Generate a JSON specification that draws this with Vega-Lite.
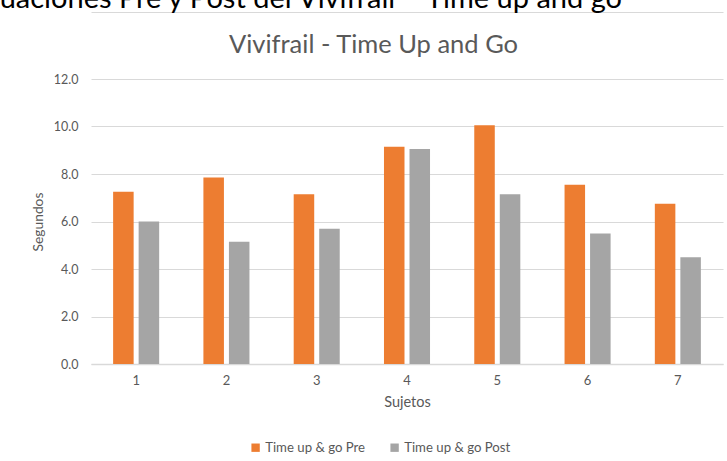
{
  "$schema": "https://vega.github.io/schema/vega-lite/v6.json",
  "width": 632,
  "height": 285,
  "autosize": {"type": "none"},
  "padding": {"left": 91, "top": 79, "right": 4, "bottom": 97},
  "background": "white",
  "title": {
    "text": "uaciones Pre y Post del Vivifrail – Time up and go",
    "orient": "top",
    "anchor": "end",
    "frame": "bounds",
    "dx": -101,
    "dy": 84,
    "offset": 2,
    "font": "Lato",
    "fontSize": 29,
    "fontWeight": "normal",
    "color": "#000000"
  },
  "config": {
    "font": "Lato",
    "view": {"stroke": null},
    "axis": {"labelColor": "#595959", "titleColor": "#595959", "titleFontWeight": "normal"}
  },
  "data": {
    "values": [
      {"sujeto": "1", "serie": "Time up & go Pre", "segundos": 7.25},
      {"sujeto": "1", "serie": "Time up & go Post", "segundos": 6.0},
      {"sujeto": "2", "serie": "Time up & go Pre", "segundos": 7.85},
      {"sujeto": "2", "serie": "Time up & go Post", "segundos": 5.15},
      {"sujeto": "3", "serie": "Time up & go Pre", "segundos": 7.15},
      {"sujeto": "3", "serie": "Time up & go Post", "segundos": 5.7},
      {"sujeto": "4", "serie": "Time up & go Pre", "segundos": 9.15},
      {"sujeto": "4", "serie": "Time up & go Post", "segundos": 9.05},
      {"sujeto": "5", "serie": "Time up & go Pre", "segundos": 10.05},
      {"sujeto": "5", "serie": "Time up & go Post", "segundos": 7.15},
      {"sujeto": "6", "serie": "Time up & go Pre", "segundos": 7.55},
      {"sujeto": "6", "serie": "Time up & go Post", "segundos": 5.5},
      {"sujeto": "7", "serie": "Time up & go Pre", "segundos": 6.75},
      {"sujeto": "7", "serie": "Time up & go Post", "segundos": 4.5}
    ]
  },
  "layer": [
    {
      "mark": {"type": "bar"},
      "encoding": {
        "x": {
          "field": "sujeto",
          "type": "nominal",
          "scale": {"paddingInner": 0.49, "paddingOuter": 0.245},
          "axis": {
            "orient": "bottom",
            "title": "Sujetos",
            "labelAngle": 0,
            "labelFontSize": 13,
            "labelPadding": 10,
            "ticks": false,
            "domainColor": "#d9d9d9",
            "domainWidth": 1.5,
            "titleFontSize": 14.5,
            "titlePadding": 8
          }
        },
        "xOffset": {
          "field": "serie",
          "type": "nominal",
          "sort": ["Time up & go Pre", "Time up & go Post"],
          "scale": {"paddingInner": 0.196, "paddingOuter": 0}
        },
        "y": {
          "field": "segundos",
          "type": "quantitative",
          "scale": {"domain": [0, 12], "nice": false},
          "axis": {
            "title": "Segundos",
            "values": [0, 2, 4, 6, 8, 10, 12],
            "format": ".1f",
            "labelFontSize": 12.5,
            "labelPadding": 13,
            "ticks": false,
            "domain": false,
            "gridColor": "#d9d9d9",
            "gridWidth": 1.2,
            "titleFontSize": 13.8,
            "titlePadding": 8
          }
        },
        "color": {
          "field": "serie",
          "type": "nominal",
          "sort": ["Time up & go Pre", "Time up & go Post"],
          "scale": {"domain": ["Time up & go Pre", "Time up & go Post"], "range": ["#ED7D31", "#A5A5A5"]},
          "legend": {
            "title": null,
            "orient": "none",
            "legendX": 158,
            "legendY": 362,
            "direction": "horizontal",
            "symbolType": "square",
            "symbolSize": 70,
            "symbolStrokeWidth": 0,
            "labelFontSize": 13.2,
            "labelColor": "#595959",
            "labelOffset": 3,
            "columnPadding": 22
          }
        }
      }
    },
    {
      "mark": {"type": "bar", "opacity": 0},
      "encoding": {
        "x": {
          "field": "sujeto",
          "type": "nominal",
          "axis": {
            "orient": "top",
            "offset": 67,
            "labels": false,
            "ticks": false,
            "grid": false,
            "domain": true,
            "domainColor": "#d9d9d9",
            "title": "Vivifrail - Time Up and Go",
            "titleFontSize": 25.5,
            "titleColor": "#595959",
            "titleFontWeight": "normal",
            "titleX": 282,
            "titleY": 40,
            "titleAlign": "center",
            "titleBaseline": "alphabetic"
          }
        },
        "y": {"field": "segundos", "type": "quantitative"}
      }
    }
  ],
  "resolve": {"axis": {"x": "independent"}}
}
